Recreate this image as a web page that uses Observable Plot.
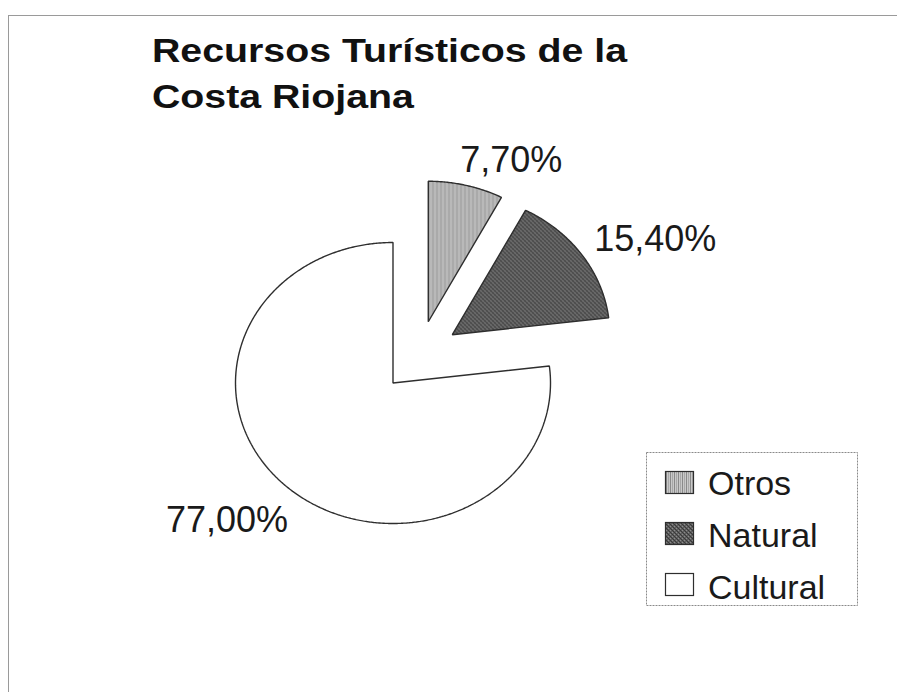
<!DOCTYPE html>
<html>
<head>
<meta charset="utf-8">
<script src="https://cdn.jsdelivr.net/npm/d3@7"></script>
<script src="https://cdn.jsdelivr.net/npm/@observablehq/plot@0.6"></script>
<style>
  body { margin: 0; background: #fff; }
  #wrap { position: relative; width: 897px; height: 692px; overflow: hidden; background: #fff;
          font-family: 'Liberation Sans', Arial, Helvetica, sans-serif; }
  #frame { position: absolute; left: 8px; top: 15px; width: 1200px; height: 1200px;
           border-left: 1px solid #9a9a9a; border-top: 1px solid #9a9a9a; }
  #title { position: absolute; left: 152px; top: 28px; font-size: 33px; font-weight: bold;
           line-height: 46px; white-space: nowrap; color: #111;
           transform: scaleX(1.19); transform-origin: left top; }
  #chart { position: absolute; left: 0; top: 0; }
  #legend { position: absolute; left: 646px; top: 452px; }
</style>
</head>
<body>
<svg width="0" height="0" style="position:absolute">
  <defs>
    <pattern id="pOtros" width="4" height="4" patternUnits="userSpaceOnUse">
      <rect width="4" height="4" fill="#c9c9c9"/>
      <rect x="0" width="1" height="4" fill="#8a8a8a"/>
      <rect x="2" width="1" height="4" fill="#a8a8a8"/>
    </pattern>
    <pattern id="pNatural" width="4" height="4" patternUnits="userSpaceOnUse">
      <rect width="4" height="4" fill="#5e5e5e"/>
      <rect x="0" y="0" width="1" height="1" fill="#3a3a3a"/>
      <rect x="1" y="1" width="1" height="1" fill="#3a3a3a"/>
      <rect x="2" y="2" width="1" height="1" fill="#3a3a3a"/>
      <rect x="3" y="3" width="1" height="1" fill="#3a3a3a"/>
      <rect x="2" y="0" width="1" height="1" fill="#8c8c8c"/>
      <rect x="0" y="2" width="1" height="1" fill="#8c8c8c"/>
    </pattern>
  </defs>
</svg>
<div id="wrap">
  <div id="frame"></div>
  <div id="chart"></div>
  <div id="title">Recursos Turísticos de la<br>Costa Riojana</div>
  <div id="legend"></div>
</div>
<script>
// ---- data ----
const categories = ["Otros", "Natural", "Cultural"];
const values = [7.7, 15.4, 77.0];
const labels = values.map(v => v.toFixed(2).replace(".", ",") + "%");

// ---- styles / layout ----
const fills = {Otros: "url(#pOtros)", Natural: "url(#pNatural)", Cultural: "#ffffff"};
const W = 897, H = 692;
const cx = 392.5, cy = 382.5, rx = 157.5, ry = 140.5;   // pie centre & radii (px)
// explode offset of each slice: [direction in degrees clockwise from 12 o'clock, distance in radii]
const explode = {Otros: [27.2, 0.49], Natural: [47.6, 0.51], Cultural: [0, 0]};
// label placement relative to each slice centre: [direction deg, distance in radii]
const labelPos = {Otros: [24.7, 1.26], Natural: [62.3, 1.455], Cultural: [227.2, 1.436]};

const rad = d => d * Math.PI / 180;
const total = d3.sum(values);
const slices = [];
const labelRows = [];
let acc = 0;
categories.forEach((c, i) => {
  const a0 = acc / total * 2 * Math.PI;
  acc += values[i];
  const a1 = acc / total * 2 * Math.PI;
  const [ea, ed] = explode[c];
  const ox = ed * Math.sin(rad(ea)), oy = ed * Math.cos(rad(ea));
  const pts = [{c, x: ox, y: oy}];
  const n = Math.max(2, Math.ceil((a1 - a0) / (Math.PI / 360)));
  for (let k = 0; k <= n; k++) {
    const a = a0 + (a1 - a0) * k / n;
    pts.push({c, x: ox + Math.sin(a), y: oy + Math.cos(a)});
  }
  slices.push(pts);
  const [la, ld] = labelPos[c];
  labelRows.push({c, text: labels[i], x: ox + ld * Math.sin(rad(la)), y: oy + ld * Math.cos(rad(la))});
});

const xDomain = [-cx / rx, (W - cx) / rx];
const yDomain = [(cy - H) / ry, cy / ry];

const plot = Plot.plot({
  width: W, height: H,
  margin: 0,
  style: {fontFamily: "'Liberation Sans', Arial, sans-serif", background: "transparent"},
  x: {domain: xDomain, axis: null},
  y: {domain: yDomain, axis: null},
  marks: [
    ...slices.map(pts => Plot.line(pts, {
      x: "x", y: "y", curve: "linear-closed",
      fill: fills[pts[0].c], stroke: "#2e2e2e", strokeWidth: 1.4, strokeLinejoin: "miter"
    })),
    Plot.text(labelRows, {x: "x", y: "y", text: "text", fontSize: 36, fill: "#1a1a1a", textAnchor: "middle"})
  ]
});
document.getElementById("chart").appendChild(plot);

// ---- legend ----
const lg = d3.create("svg").attr("width", 214).attr("height", 156);
lg.append("rect").attr("x", 0.5).attr("y", 0.5).attr("width", 211).attr("height", 153)
  .attr("fill", "#fff").attr("stroke", "#8a8a8a").attr("stroke-width", 1).attr("stroke-dasharray", "2,1");
categories.forEach((c, i) => {
  lg.append("rect").attr("x", 19.5).attr("y", 19.5 + i * 51).attr("width", 28).attr("height", 22)
    .attr("fill", fills[c]).attr("stroke", "#2e2e2e").attr("stroke-width", 1.2);
  lg.append("text").attr("x", 62).attr("y", 43 + i * 52).text(c)
    .attr("font-size", 34).attr("fill", "#1a1a1a")
    .attr("font-family", "'Liberation Sans', Arial, sans-serif");
});
document.getElementById("legend").appendChild(lg.node());
</script>
</body>
</html>
